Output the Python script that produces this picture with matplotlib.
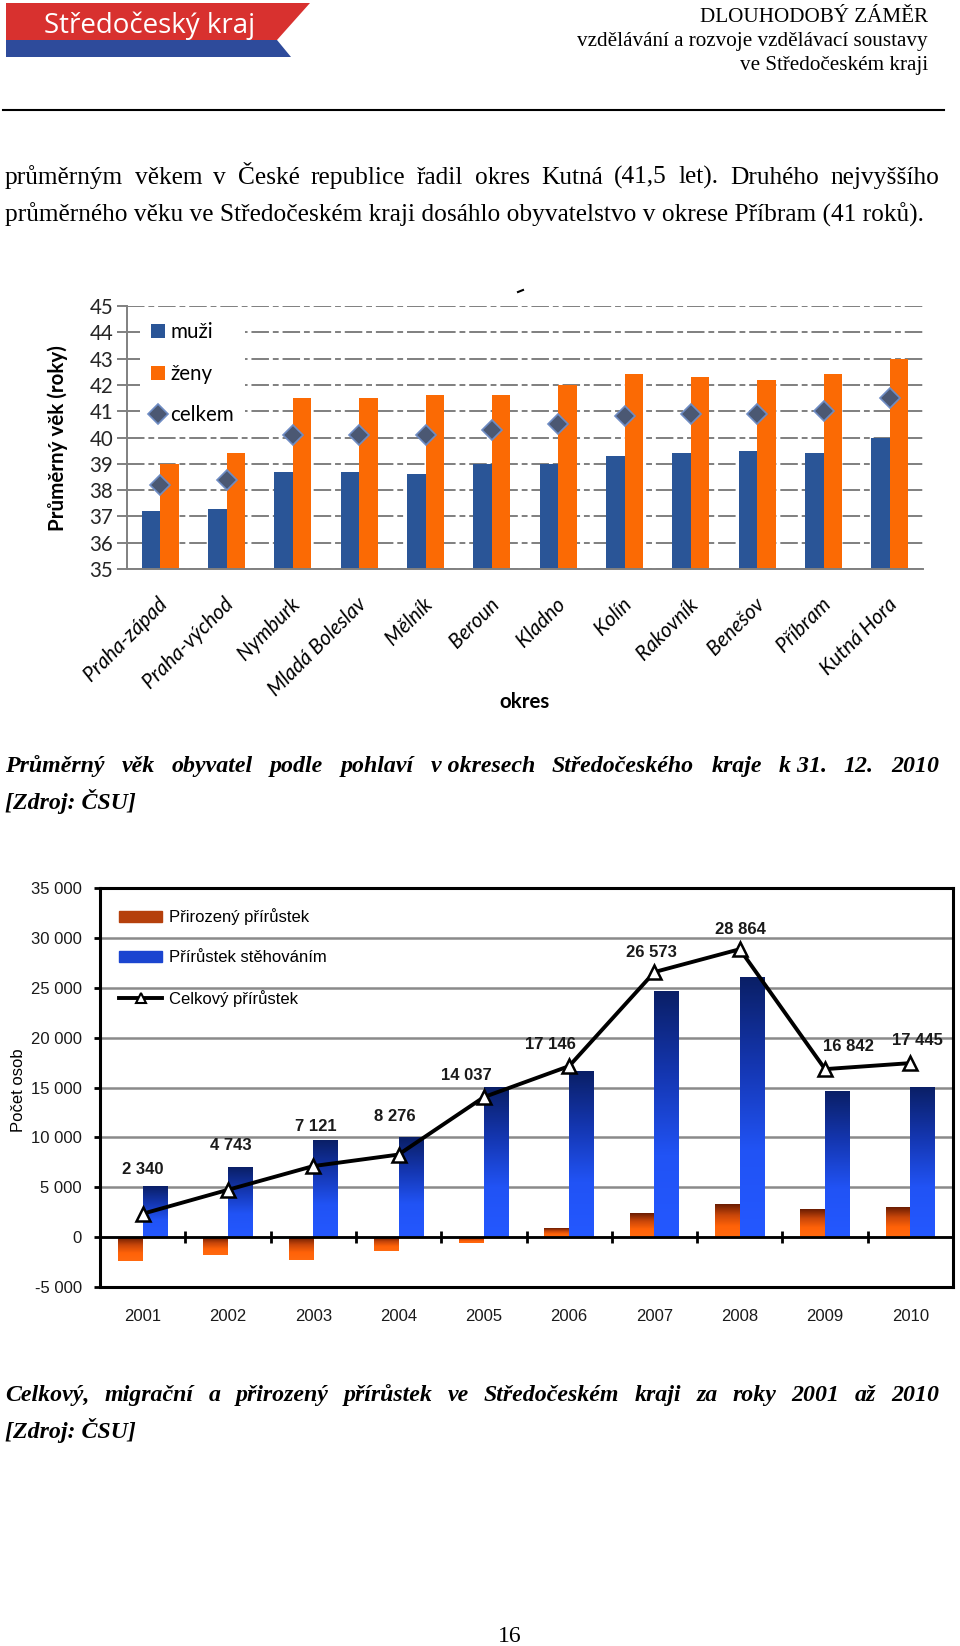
import numpy as np
import matplotlib
matplotlib.use('Agg')
import matplotlib.pyplot as plt
from matplotlib.patches import Polygon, Rectangle
from matplotlib.lines import Line2D
from matplotlib.colors import LinearSegmentedColormap
from matplotlib.transforms import ScaledTranslation

# chart 1 - prumerny vek podle okresu
okresy = ['Praha-západ', 'Praha-východ', 'Nymburk', 'Mladá Boleslav', 'Mělník', 'Beroun',
          'Kladno', 'Kolín', 'Rakovník', 'Benešov', 'Příbram', 'Kutná Hora']
muzi = [37.2, 37.3, 38.7, 38.7, 38.6, 39.0, 39.0, 39.3, 39.4, 39.5, 39.4, 40.0]
zeny = [39.0, 39.4, 41.5, 41.5, 41.6, 41.6, 42.0, 42.4, 42.3, 42.2, 42.4, 43.0]
celkem = [38.2, 38.4, 40.1, 40.1, 40.1, 40.3, 40.5, 40.8, 40.9, 40.9, 41.0, 41.5]
vek_ticks = list(range(35, 46))

# chart 2 - prirustky 2001-2010
roky = ['2001', '2002', '2003', '2004', '2005', '2006', '2007', '2008', '2009', '2010']
prirozeny = [-2400, -1800, -2250, -1350, -570, 830, 2340, 3240, 2800, 2940]
stehovanim = [5040, 6950, 9720, 10020, 14960, 16630, 24600, 26050, 14630, 14960]
celkovy = [2340, 4743, 7121, 8276, 14037, 17146, 26573, 28864, 16842, 17445]
osob_ticks = [-5000, 0, 5000, 10000, 15000, 20000, 25000, 30000, 35000]
osob_labels = ['-5 000', '0', '5 000', '10 000', '15 000', '20 000', '25 000', '30 000', '35 000']

# label offsets (pixels) for the total line
label_off = [(0, 44), (3, 44), (3, 40), (-4, 38), (-17, 22), (-19, 22), (-3, 20), (1, 20), (23, 23), (7, 23)]

W, H = 960, 1646
fig = plt.figure(figsize=(W / 100, H / 100), dpi=100)
page = fig.add_axes([0, 0, 1, 1])
page.set_xlim(0, W)
page.set_ylim(H, 0)
page.axis('off')

SERIF = ['Liberation Serif', 'DejaVu Serif']
renderer = fig.canvas.get_renderer()


def justify(words, x0, x1, y, **kw):
    ts = [page.text(0, y, w, va='baseline', ha='left', **kw) for w in words]
    widths = [t.get_window_extent(renderer).width for t in ts]
    gap = (x1 - x0 - sum(widths)) / (len(words) - 1)
    xx = x0
    for t, w in zip(ts, widths):
        t.set_x(xx)
        xx += w + gap


# header
page.add_patch(Polygon([(6, 3), (310, 3), (277, 40), (6, 40)], closed=True, color='#d8312f', lw=0))
page.add_patch(Polygon([(6, 40), (277, 40), (291, 57), (6, 57)], closed=True, color='#2e4b9b', lw=0))
page.text(150, 33, 'Středočeský kraj', color='white', family='Open Sans', fontsize=20,
          ha='center', va='baseline')
page.text(928, 22, 'DLOUHODOBÝ ZÁMĚR', ha='right', va='baseline', family=SERIF, fontsize=15.2)
page.text(928, 46, 'vzdělávání a rozvoje vzdělávací soustavy', ha='right', va='baseline', family=SERIF, fontsize=15.2)
page.text(928, 70, 've Středočeském kraji', ha='right', va='baseline', family=SERIF, fontsize=15.2)
page.plot([3, 944], [110, 110], color='black', lw=1.5)

# body text
body_fs = 18.3
justify('průměrným věkem v České republice řadil okres Kutná (41,5 let). Druhého nejvyššího'.split(),
        5, 939, 184, family=SERIF, fontsize=body_fs)
page.text(5, 222, 'průměrného věku ve Středočeském kraji dosáhlo obyvatelstvo v okrese Příbram (41 roků).',
          va='baseline', family=SERIF, fontsize=body_fs)

cap_kw = dict(family=SERIF, fontsize=17.2, fontweight='bold', fontstyle='italic')
justify(['Průměrný', 'věk', 'obyvatel', 'podle', 'pohlaví', 'v okresech', 'Středočeského',
         'kraje', 'k 31.', '12.', '2010'], 5, 939, 772, **cap_kw)
page.text(5, 809, '[Zdroj: ČSU]', va='baseline', **cap_kw)
justify('Celkový, migrační a přirozený přírůstek ve Středočeském kraji za roky 2001 až 2010'.split(),
        5, 939, 1401, **cap_kw)
page.text(5, 1438, '[Zdroj: ČSU]', va='baseline', **cap_kw)
page.text(510, 1642, '16', ha='center', va='baseline', family=SERIF, fontsize=17)
page.plot([518, 523], [292, 290], color='black', lw=1.5)

# ---------------- chart 1 ----------------
plt.rcParams['font.family'] = ['Lato', 'DejaVu Sans']
fs1 = 14.8
ax1 = fig.add_axes([127 / W, 1 - 569 / H, 796 / W, 263 / H])
x = np.arange(len(okresy))
bw = 0.28
h_m = ax1.bar(x - bw / 2, muzi, bw, color='#2a5597', label='muži', zorder=3)
h_z = ax1.bar(x + bw / 2, zeny, bw, color='#fb6a04', label='ženy', zorder=3)
h_c, = ax1.plot(x, celkem, ls='none', marker='D', ms=10, mfc='#4b5873', mec='#6e8cc4', mew=1.2,
                label='celkem', zorder=4)
ax1.set_xlim(-0.5, 11.5)
ax1.set_ylim(35, 45)
ax1.set_yticks(vek_ticks)
ax1.set_yticklabels([str(v) for v in vek_ticks], fontsize=fs1, color='#262626')
ax1.grid(axis='y', linestyle=(0, (9, 2, 3, 2)), color='#7f7f7f', lw=1.4, zorder=1)
ax1.set_axisbelow(True)
for s in ['top', 'right']:
    ax1.spines[s].set_visible(False)
for s in ['left', 'bottom']:
    ax1.spines[s].set_color('#808080')
    ax1.spines[s].set_linewidth(1.4)
    ax1.spines[s].set_zorder(5)
ax1.tick_params(axis='y', length=7, width=1.4, color='#808080', pad=3)
ax1.tick_params(axis='x', length=0, pad=18)
ax1.set_xticks(x)
ax1.set_xticklabels(okresy, rotation=45, ha='right', va='top', rotation_mode='anchor',
                    fontstyle='italic', fontsize=fs1)
for lab in ax1.get_xticklabels():
    lab.set_transform(lab.get_transform() + ScaledTranslation(-0.03, 0, fig.dpi_scale_trans))
ax1.set_ylabel('Průměrný věk (roky)', fontweight='bold', fontsize=fs1)
ax1.yaxis.set_label_coords((68 - 127) / 796, (569 - 438) / 263)
ax1.set_xlabel('okres', fontweight='bold', fontsize=fs1)
ax1.xaxis.set_label_coords(0.5, (569 - 692) / 263)
ax1.legend([h_m, h_z, h_c], ['muži', 'ženy', 'celkem'],
           loc='upper left', bbox_to_anchor=((140 - 127) / 796, (569 - 311) / 263),
           borderaxespad=0, borderpad=0.55, frameon=True, facecolor='white', edgecolor='none',
           framealpha=1, fancybox=False, fontsize=fs1, labelspacing=1.05, handlelength=0.68,
           handleheight=0.68, handletextpad=0.25, numpoints=1)

# ---------------- chart 2 ----------------
SANS = ['Liberation Sans', 'DejaVu Sans']
ax2 = fig.add_axes([100 / W, 1 - 1287 / H, 853 / W, 399 / H])
x2 = np.arange(len(roky))
bw2 = 0.29
b_nat = ax2.bar(x2 - bw2 / 2, prirozeny, bw2, color='none', zorder=3)
b_mig = ax2.bar(x2 + bw2 / 2, stehovanim, bw2, color='none', zorder=3)

cm_orange = LinearSegmentedColormap.from_list('o', ['#6a1c02', '#c8460a', '#ff6208', '#ff6a10'])
cm_blue = LinearSegmentedColormap.from_list('b', ['#0a1f66', '#1436b0', '#2153f5', '#2458ff'])
grad = np.linspace(0, 1, 256).reshape(-1, 1)
for bars, cm in [(b_nat, cm_orange), (b_mig, cm_blue)]:
    for b in bars:
        bx, by = b.get_xy()
        bwid, bh = b.get_width(), b.get_height()
        y0, y1 = sorted([by, by + bh])
        ax2.imshow(grad, cmap=cm, extent=[bx, bx + bwid, y0, y1], origin='upper',
                   aspect='auto', zorder=3, interpolation='bilinear')

ax2.plot(x2, celkovy, color='black', lw=2.8, marker='^', ms=10, mfc='white', mec='black',
         mew=1.8, zorder=6, clip_on=False)
for i, v in enumerate(celkovy):
    ax2.annotate(f'{v:,}'.replace(',', ' '), (i, v), xytext=label_off[i], textcoords='offset pixels',
                 ha='center', va='center', fontsize=12, fontweight='bold', family=SANS,
                 color='#1a1a1a', zorder=7)

ax2.axhline(0, color='black', lw=2, zorder=4)
ax2.plot(x2[:-1] + 0.5, np.zeros(len(x2) - 1), ls='none', marker='|', ms=9, mew=2,
         color='black', zorder=4)
ax2.set_xlim(-0.5, len(roky) - 0.5)
ax2.set_ylim(-5000, 35000)
ax2.set_yticks(osob_ticks)
ax2.set_yticklabels(osob_labels, family=SANS, fontsize=12, color='#1a1a1a')
ax2.grid(axis='y', color='#8a8a8a', lw=1.8, zorder=1)
ax2.set_axisbelow(True)
for s in ax2.spines.values():
    s.set_linewidth(2.2)
    s.set_color('black')
ax2.tick_params(axis='y', length=4, width=2, color='black', pad=9)
ax2.set_xticks(x2)
ax2.set_xticklabels(roky, family=SANS, fontsize=12, color='#1a1a1a')
ax2.tick_params(axis='x', length=0, pad=16)
ax2.set_ylabel('Počet osob', family=SANS, fontsize=12)
ax2.yaxis.set_label_coords((26 - 100) / 853, (1287 - 1090) / 399)

handles = [Rectangle((0, 0), 1, 1, color='#b5400c'),
           Rectangle((0, 0), 1, 1, color='#1b45d0'),
           Line2D([], [], color='black', lw=2.8, marker='^', ms=7, mfc='white', mec='black', mew=1.5)]
ax2.legend(handles, ['Přirozený přírůstek', 'Přírůstek stěhováním', 'Celkový přírůstek'],
           loc='upper left', bbox_to_anchor=((119 - 100) / 853, (1287 - 908) / 399),
           borderaxespad=0, borderpad=0, frameon=False, prop={'family': SANS, 'size': 12},
           labelspacing=1.5, handlelength=2.6, handleheight=0.64, handletextpad=0.4, numpoints=1)

fig.savefig('out.png', dpi=100)
